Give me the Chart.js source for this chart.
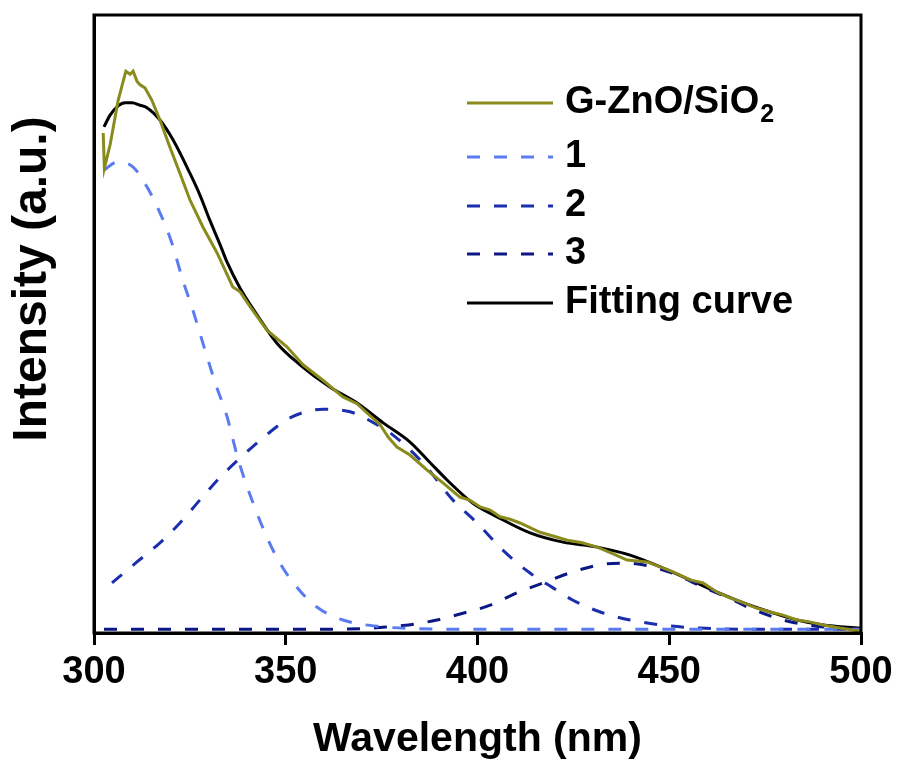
<!DOCTYPE html>
<html>
<head>
<meta charset="utf-8">
<script src="https://cdn.jsdelivr.net/npm/chart.js@4.4.1/dist/chart.umd.min.js"></script>
<style>
  html, body { margin: 0; padding: 0; background: #ffffff; }
  canvas { display: block; }
</style>
</head>
<body>
<canvas id="chart" width="903" height="769"></canvas>
<script>
// ---------------- data ----------------
const xTickLabels = [300, 350, 400, 450, 500];
const seriesNames = ['G-ZnO/SiO2', '1', '2', '3', 'Fitting curve'];
const xAxisTitle = 'Wavelength (nm)';
const yAxisTitle = 'Intensity (a.u.)';

// measured spectrum (olive)
const dataWavelength = [302.4, 302.7, 304.2, 306.3, 308.3, 309.4, 310.2, 311.2, 312.0, 313.3, 315.1, 317.2, 319.8, 322.4, 325.0, 328.4, 332.1, 336.2, 338.1, 340.7, 345.1, 350.3, 354.5, 359.7, 364.9, 368.6, 371.2, 374.6, 376.7, 379.0, 382.4, 386.8, 391.0, 395.4, 398.0, 400.7, 403.3, 405.9, 408.5, 411.1, 416.3, 419.7, 423.4, 427.3, 431.2, 435.1, 439.0, 444.2, 447.6, 451.0, 455.4, 458.8, 462.5, 465.8, 469.2, 472.9, 476.3, 479.7, 483.3, 486.7, 490.1, 494.5, 499.7];
const dataIntensity  = [80.9, 75.2, 79.0, 86.2, 90.9, 90.4, 90.9, 89.3, 88.7, 88.2, 86.2, 83.0, 78.6, 74.4, 70.1, 65.7, 61.5, 56.0, 55.2, 52.8, 49.0, 46.3, 43.4, 40.9, 38.2, 37.1, 35.6, 33.7, 31.7, 30.1, 28.8, 26.4, 24.3, 22.0, 21.5, 20.4, 19.9, 18.8, 18.4, 17.8, 16.3, 15.7, 15.0, 14.6, 13.9, 12.9, 11.8, 11.5, 10.7, 9.9, 8.6, 8.1, 6.6, 5.7, 4.9, 4.0, 3.4, 2.9, 2.1, 1.8, 1.3, 0.8, 0.3];

// component 1 (light blue dashed)
const peak1Wavelength = [302.6, 306.0, 310.2, 313.8, 317.2, 320.3, 323.2, 325.8, 328.4, 331.6, 334.7, 337.5, 341.5, 345.1, 348.5, 352.9, 358.1, 364.9, 375.4, 385.0, 400.0, 450.0, 499.7];
const peak1Intensity  = [74.9, 76.2, 75.4, 72.2, 68.0, 63.1, 57.0, 52.2, 46.9, 40.5, 35.0, 28.3, 21.0, 15.5, 11.3, 7.4, 4.2, 2.1, 1.0, 0.7, 0.6, 0.6, 0.6];

// component 2 (blue dashed)
const peak2Wavelength = [304.7, 311.2, 317.2, 322.4, 327.6, 332.9, 338.1, 344.1, 351.1, 359.7, 366.8, 373.8, 377.2, 385.8, 393.6, 399.9, 406.6, 413.7, 419.7, 424.9, 432.0, 439.8, 449.4, 458.0, 473.7, 499.7];
const peak2Intensity  = [8.1, 11.5, 14.6, 17.8, 21.5, 25.2, 28.3, 31.6, 34.8, 36.2, 35.8, 33.7, 32.4, 27.5, 21.5, 17.8, 13.4, 9.7, 7.3, 5.3, 3.4, 2.1, 1.2, 0.8, 0.6, 0.6];

// component 3 (navy dashed)
const peak3Wavelength = [302.6, 330.0, 353.7, 369.4, 374.6, 380.6, 389.4, 396.2, 403.3, 410.3, 417.1, 424.9, 433.8, 439.0, 445.0, 452.0, 458.8, 465.1, 471.1, 479.7, 488.5, 499.7];
const peak3Intensity  = [0.6, 0.6, 0.6, 0.7, 0.9, 1.2, 2.1, 3.2, 4.5, 6.5, 8.1, 9.9, 11.2, 11.3, 10.8, 9.4, 7.4, 5.8, 4.0, 2.1, 1.1, 0.6];

// fitting curve (black)
const fitWavelength = [302.6, 304.2, 306.3, 308.1, 309.9, 312.0, 313.8, 317.2, 320.6, 325.0, 327.6, 330.2, 332.9, 334.7, 338.1, 342.5, 347.7, 353.7, 361.5, 368.6, 375.4, 382.4, 387.6, 392.0, 398.8, 405.1, 413.7, 422.3, 431.2, 439.8, 448.4, 455.4, 462.5, 469.2, 476.3, 483.3, 490.1, 499.7];
const fitIntensity  = [81.9, 83.8, 85.3, 85.8, 85.8, 85.4, 85.0, 83.0, 79.8, 74.4, 70.9, 66.8, 62.8, 60.0, 55.8, 51.5, 46.9, 43.4, 39.8, 37.2, 34.0, 30.9, 27.6, 24.8, 21.0, 18.8, 16.2, 14.7, 13.9, 12.6, 10.5, 8.6, 6.6, 4.9, 3.4, 2.1, 1.3, 0.8];

// ---------------- helpers ----------------
const zip = (xs, ys) => xs.map((x, i) => ({ x: x, y: ys[i] }));
const FONT = "'Liberation Sans', Arial, Helvetica, sans-serif";
const DASH = [13, 14];

Chart.defaults.color = '#000000';
Chart.defaults.font.family = FONT;

// frame around the plot area
const framePlugin = {
  id: 'frame',
  afterDraw(chart) {
    const { ctx, chartArea: a } = chart;
    ctx.save();
    ctx.strokeStyle = '#000';
    ctx.lineWidth = 3;
    ctx.strokeRect(a.left, a.top, a.right - a.left, a.bottom - a.top);
    ctx.restore();
  }
};

// rotated y-axis title (placed like the reference, above centre)
const yTitlePlugin = {
  id: 'yTitle',
  afterDraw(chart) {
    const ctx = chart.ctx;
    ctx.save();
    ctx.translate(33, 279);
    ctx.rotate(-Math.PI / 2);
    ctx.font = 'bold 48px ' + FONT;
    ctx.fillStyle = '#000';
    ctx.textAlign = 'center';
    ctx.textBaseline = 'middle';
    ctx.fillText(yAxisTitle, 0, 0);
    ctx.restore();
  }
};

// legend inside the plot area, top-right
const legendPlugin = {
  id: 'insideLegend',
  afterDraw(chart) {
    const ctx = chart.ctx;
    const x0 = 467, x1 = 553, tx = 565;
    const rows = [103, 157, 206, 254, 303];
    chart.data.datasets.forEach((ds, i) => {
      const y = rows[i];
      ctx.save();
      ctx.strokeStyle = ds.borderColor;
      ctx.lineWidth = ds.borderWidth;
      ctx.setLineDash(ds.borderDash || []);
      ctx.beginPath();
      ctx.moveTo(x0, y);
      ctx.lineTo(x1, y);
      ctx.stroke();
      ctx.setLineDash([]);
      ctx.fillStyle = '#000';
      ctx.textAlign = 'left';
      ctx.textBaseline = 'middle';
      ctx.font = 'bold 38px ' + FONT;
      const label = ds.label;
      const m = label.match(/^(.*O)(2)$/);
      if (m) {
        ctx.fillText(m[1], tx, y);
        const w = ctx.measureText(m[1]).width;
        ctx.font = 'bold 25px ' + FONT;
        ctx.fillText(m[2], tx + w + 1, y + 12);
      } else {
        ctx.fillText(label, tx, y);
      }
      ctx.restore();
    });
  }
};

new Chart(document.getElementById('chart'), {
  type: 'line',
  data: {
    datasets: [
      { label: seriesNames[0], data: zip(dataWavelength, dataIntensity), borderColor: '#8a8a1d', borderWidth: 3, tension: 0, pointRadius: 0, fill: false },
      { label: seriesNames[1], data: zip(peak1Wavelength, peak1Intensity), borderColor: '#5b7cf0', borderWidth: 3, borderDash: DASH, cubicInterpolationMode: 'monotone', pointRadius: 0, fill: false },
      { label: seriesNames[2], data: zip(peak2Wavelength, peak2Intensity), borderColor: '#1b2fae', borderWidth: 3, borderDash: DASH, cubicInterpolationMode: 'monotone', pointRadius: 0, fill: false },
      { label: seriesNames[3], data: zip(peak3Wavelength, peak3Intensity), borderColor: '#0b1784', borderWidth: 3, borderDash: DASH, cubicInterpolationMode: 'monotone', pointRadius: 0, fill: false },
      { label: seriesNames[4], data: zip(fitWavelength, fitIntensity), borderColor: '#000000', borderWidth: 3, cubicInterpolationMode: 'monotone', pointRadius: 0, fill: false }
    ]
  },
  options: {
    responsive: false,
    animation: false,
    devicePixelRatio: 1,
    layout: { padding: { top: 15, right: 0, left: 0, bottom: 0 } },
    plugins: { legend: { display: false }, tooltip: { enabled: false } },
    scales: {
      x: {
        type: 'linear',
        min: 300, max: 500,
        afterBuildTicks: (s) => { s.ticks = xTickLabels.map(v => ({ value: v })); },
        ticks: { font: { size: 38, weight: 'bold' }, color: '#000', padding: 5, maxRotation: 0, autoSkip: false },
        grid: { display: true, drawOnChartArea: false, drawTicks: true, tickLength: 12, lineWidth: 3, color: '#000' },
        border: { display: true, width: 3, color: '#000' },
        title: { display: true, text: xAxisTitle, font: { size: 41, weight: 'bold' }, color: '#000', padding: { top: 0, bottom: 5 } },
        afterFit: (s) => { s.height = 136; }
      },
      y: {
        min: 0, max: 100,
        ticks: { display: false },
        grid: { display: false },
        border: { display: true, width: 3, color: '#000' },
        afterFit: (s) => { s.width = 94; }
      },
      yRight: {
        position: 'right',
        min: 0, max: 100,
        ticks: { display: false },
        grid: { display: false },
        border: { display: false },
        afterFit: (s) => { s.width = 42; }
      }
    }
  },
  plugins: [framePlugin, yTitlePlugin, legendPlugin]
});
</script>
</body>
</html>
